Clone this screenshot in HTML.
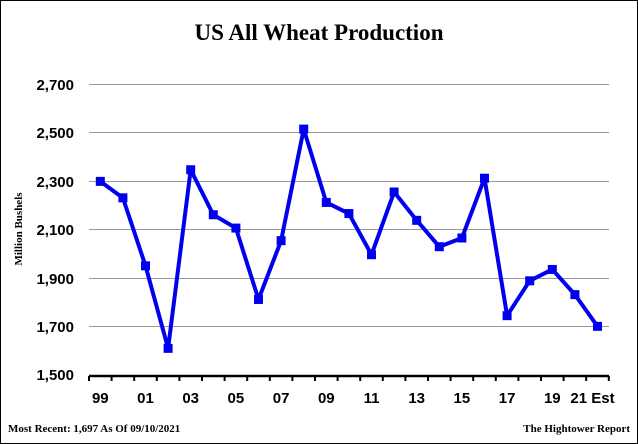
<!DOCTYPE html><html><head><style>body{margin:0}svg{display:block}</style></head><body>
<svg width="638" height="444" xmlns="http://www.w3.org/2000/svg">
<rect x="0.5" y="0.5" width="637" height="443" fill="#fff" stroke="#000"/>
<text x="319" y="40" text-anchor="middle" font-family="Liberation Serif" font-weight="bold" font-size="23">US All Wheat Production</text>
<g stroke="#999" stroke-width="1">
<line x1="89" x2="609" y1="84.5" y2="84.5"/><line x1="89" x2="609" y1="132.5" y2="132.5"/><line x1="89" x2="609" y1="181.5" y2="181.5"/><line x1="89" x2="609" y1="229.5" y2="229.5"/><line x1="89" x2="609" y1="278.5" y2="278.5"/><line x1="89" x2="609" y1="326.5" y2="326.5"/>
</g>
<g font-family="Liberation Sans" font-weight="bold" font-size="15" text-anchor="end">
<text x="74" y="90">2,700</text><text x="74" y="138">2,500</text><text x="74" y="187">2,300</text><text x="74" y="235">2,100</text><text x="74" y="284">1,900</text><text x="74" y="332">1,700</text><text x="74" y="380">1,500</text>
</g>
<text transform="translate(22,229) rotate(-90)" text-anchor="middle" font-family="Liberation Serif" font-weight="bold" font-size="11">Million Bushels</text>
<line x1="89" x2="609" y1="376" y2="376" stroke="#000" stroke-width="2.5"/>
<g stroke="#000" stroke-width="2" id="t"></g>
<g font-family="Liberation Sans" font-weight="bold" font-size="15" text-anchor="middle" id="xl"></g>
<polyline id="ln" fill="none" stroke="#0000ee" stroke-width="4" stroke-linejoin="round"/>
<g id="mk" fill="#0000ee"></g>
<text x="8" y="432" font-family="Liberation Serif" font-weight="bold" font-size="11">Most Recent: 1,697 As Of 09/10/2021</text>
<text x="630" y="432" text-anchor="end" font-family="Liberation Serif" font-weight="bold" font-size="11">The Hightower Report</text>
</svg>
<script>
var v=[2296,2228,1947,1606,2344,2158,2103,1808,2051,2512,2209,2163,1993,2252,2135,2026,2062,2309,1741,1885,1932,1828,1697];
var ns="http://www.w3.org/2000/svg",pts=[],mk=document.getElementById('mk'),t=document.getElementById('t'),xl=document.getElementById('xl');
function X(i){return 100.3+i*22.6}function Y(d){return 374-(d-1500)*48.4/200}
for(var i=0;i<=23;i++){var l=document.createElementNS(ns,'line');var x=89+i*22.6;l.setAttribute('x1',x);l.setAttribute('x2',x);l.setAttribute('y1',376);l.setAttribute('y2',381);t.appendChild(l);}
v.forEach(function(d,i){pts.push(X(i)+','+Y(d));var r=document.createElementNS(ns,'rect');r.setAttribute('x',X(i)-4.5);r.setAttribute('y',Y(d)-4.5);r.setAttribute('width',9);r.setAttribute('height',9);mk.appendChild(r);
if(i%2==0){var s=document.createElementNS(ns,'text');var yr=(99+i)%100;s.textContent=(yr<10?'0':'')+yr+(i==22?' Est':'');s.setAttribute('x',X(i)+(i==22?-5:0));s.setAttribute('y',403);xl.appendChild(s);}});
document.getElementById('ln').setAttribute('points',pts.join(' '));
</script>
</body></html>
